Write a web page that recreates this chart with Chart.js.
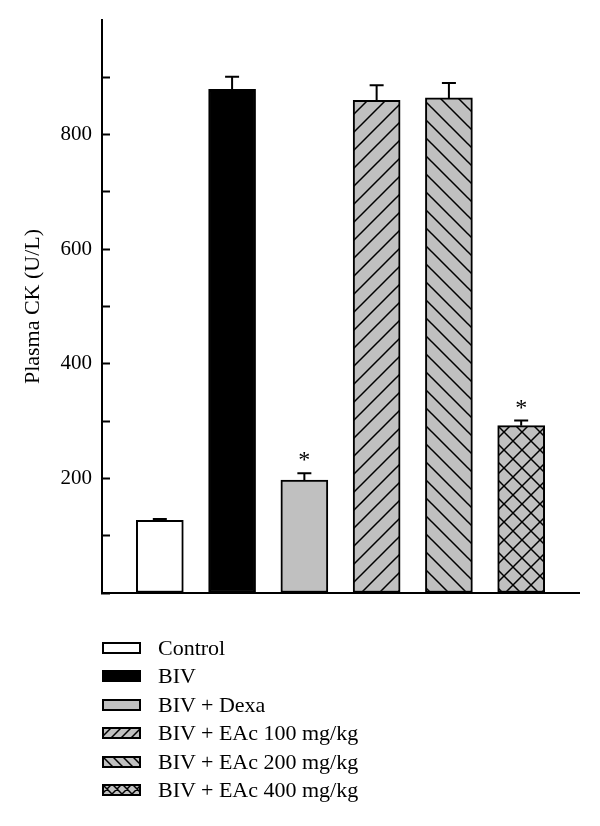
<!DOCTYPE html>
<html>
<head>
<meta charset="utf-8">
<script src="https://cdn.jsdelivr.net/npm/chart.js@4.4.1/dist/chart.umd.min.js"></script>
<style>
  html, body { margin: 0; padding: 0; background: #fff; }
  #wrap { position: relative; width: 600px; height: 826px; }
  #legend { position: absolute; left: 0; top: 0; font-family: "Liberation Serif", serif; font-size: 22px; color: #000; }
  .item { position: absolute; left: 102px; height: 28px; display: flex; align-items: center; white-space: nowrap; }
  .item canvas { display: block; margin-right: 17px; }
</style>
</head>
<body>
<div id="wrap">
  <canvas id="chart" width="600" height="826"></canvas>
  <div id="legend"></div>
</div>
<script>
const groups = ['Control', 'BIV', 'BIV + Dexa', 'BIV + EAc 100 mg/kg', 'BIV + EAc 200 mg/kg', 'BIV + EAc 400 mg/kg'];
const values = [127, 879, 197, 860, 864, 292];
const errors = [2, 22, 12, 26, 26, 9];
const significant = [false, false, true, false, false, true];
const yTickLabels = [200, 400, 600, 800];

const GRAY = '#c0c0c0';
const fills = ['white', 'black', 'gray', 'fwd', 'back', 'cross'];

function makeFill(ctx, kind, size) {
  if (kind === 'white') return '#fff';
  if (kind === 'black') return '#000';
  if (kind === 'gray') return GRAY;
  const tile = document.createElement('canvas');
  tile.width = size;
  tile.height = size;
  const t = tile.getContext('2d');
  t.fillStyle = GRAY;
  t.fillRect(0, 0, size, size);
  t.strokeStyle = '#000';
  t.lineWidth = 1.5;
  t.beginPath();
  if (kind === 'fwd' || kind === 'cross') {
    t.moveTo(-1, size + 1); t.lineTo(size + 1, -1);
    t.moveTo(-2, 2); t.lineTo(2, -2);
    t.moveTo(size - 2, size + 2); t.lineTo(size + 2, size - 2);
  }
  if (kind === 'back' || kind === 'cross') {
    t.moveTo(-1, -1); t.lineTo(size + 1, size + 1);
    t.moveTo(size - 2, -2); t.lineTo(size + 2, 2);
    t.moveTo(-2, size - 2); t.lineTo(2, size + 2);
  }
  t.stroke();
  return ctx.createPattern(tile, 'repeat');
}

const canvas = document.getElementById('chart');
const ctx = canvas.getContext('2d');

const errorBars = {
  id: 'errorBars',
  afterDatasetsDraw(chart) {
    const c = chart.ctx;
    const { x, y } = chart.scales;
    c.save();
    c.strokeStyle = '#000';
    c.fillStyle = '#000';
    c.lineWidth = 2;
    values.forEach((v, i) => {
      const px = x.getPixelForValue(i);
      const base = y.getPixelForValue(v);
      const top = y.getPixelForValue(v + errors[i]);
      c.beginPath();
      c.moveTo(px, base);
      c.lineTo(px, top);
      c.moveTo(px - 7, top);
      c.lineTo(px + 7, top);
      c.stroke();
      if (significant[i]) {
        c.font = '24px "Liberation Serif"';
        c.textAlign = 'center';
        c.textBaseline = 'alphabetic';
        c.fillText('*', px, top - 6);
      }
    });
    c.restore();
  }
};

new Chart(ctx, {
  type: 'bar',
  data: {
    datasets: [{
      data: values.map((v, i) => ({ x: i, y: v })),
      backgroundColor: fills.map(k => makeFill(ctx, k, 18)),
      borderColor: '#000',
      borderWidth: 2,
      borderSkipped: false,
      barThickness: 47,
    }],
  },
  options: {
    responsive: false,
    animation: false,
    layout: { padding: { top: 20, right: 21, bottom: 225, left: 0 } },
    plugins: { legend: { display: false }, tooltip: { enabled: false } },
    scales: {
      x: {
        type: 'linear',
        offset: false,
        min: -0.8,
        max: 5.8,
        ticks: { display: false },
        grid: { display: false, offset: false },
        border: { color: '#000', width: 2 },
      },
      y: {
        min: 0,
        max: 1000,
        afterFit(scale) {
          scale.width = 102;
          scale.paddingTop = 0;
          scale.paddingBottom = 0;
        },
        ticks: {
          stepSize: 100,
          autoSkip: false,
          padding: 18,
          color: '#000',
          font: { family: 'Liberation Serif', size: 21 },
          callback: (v) => (yTickLabels.includes(v) ? String(v) : ''),
        },
        grid: {
          drawOnChartArea: false,
          tickLength: -8,
          tickWidth: 2,
          tickColor: (c) => (c.tick && c.tick.value === 1000 ? 'rgba(0,0,0,0)' : '#000'),
        },
        border: { color: '#000', width: 2 },
        title: {
          display: true,
          text: 'Plasma CK (U/L)',
          color: '#000',
          font: { family: 'Liberation Serif', size: 22 },
          padding: { top: 20, bottom: 0 },
        },
      },
    },
  },
  plugins: [errorBars],
});

// legend below the plot
const legend = document.getElementById('legend');
groups.forEach((name, i) => {
  const row = document.createElement('div');
  row.className = 'item';
  row.style.top = (634 + i * 28.4) + 'px';
  const sw = document.createElement('canvas');
  sw.width = 39;
  sw.height = 12;
  const s = sw.getContext('2d');
  s.fillStyle = makeFill(s, fills[i], 10);
  s.fillRect(0, 0, 39, 12);
  s.strokeStyle = '#000';
  s.lineWidth = 2;
  s.strokeRect(1, 1, 37, 10);
  row.appendChild(sw);
  const label = document.createElement('span');
  label.textContent = name;
  row.appendChild(label);
  legend.appendChild(row);
});
</script>
</body>
</html>
